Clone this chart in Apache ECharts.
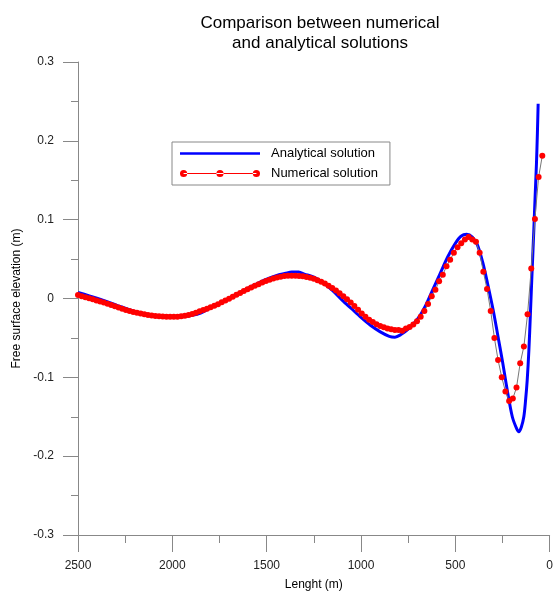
<!DOCTYPE html>
<html>
<head>
<meta charset="utf-8">
<script src="https://cdn.jsdelivr.net/npm/echarts@6/dist/echarts.min.js"></script>
<style>
  html, body { margin: 0; padding: 0; background: #fff; }
  #main { width: 556px; height: 599px; }
</style>
</head>
<body>
<div id="main"></div>
<script>
// analytical solution
var anaX = [2500, 2400, 2300, 2200, 2100, 2000, 1950, 1900, 1850, 1800,
  1750, 1700, 1650, 1600, 1550, 1500, 1450, 1400, 1367, 1330,
  1300, 1250, 1200, 1150, 1100, 1050, 1000, 950, 900, 850,
  820, 790, 750, 700, 660, 620, 580, 540, 500, 470,
  440, 410, 383, 355, 330, 300, 277, 250, 225, 198,
  175, 163, 150, 137, 128, 119, 110, 102, 93, 84,
  77, 70, 65, 61];
var anaY = [0.0078, 0.0005, -0.008, -0.0165, -0.0215, -0.0235, -0.0232, -0.0215, -0.0185, -0.012,
  -0.006, 0.000, 0.0065, 0.013, 0.019, 0.0245, 0.029, 0.032, 0.0337, 0.0335,
  0.031, 0.027, 0.020, 0.010, -0.002, -0.013, -0.024, -0.034, -0.042, -0.048,
  -0.049, -0.046, -0.039, -0.026, -0.010, 0.011, 0.032, 0.053, 0.070, 0.079,
  0.0815, 0.078, 0.068, 0.046, 0.020, -0.014, -0.044, -0.080, -0.116, -0.150,
  -0.165, -0.169, -0.163, -0.150, -0.130, -0.1035, -0.065, -0.019, 0.035, 0.0866,
  0.130, 0.171, 0.210, 0.247];

// numerical solution, one value per grid node (dx = 2500/128 m, from 2500 m shoreward)
var numY = [0.0044, 0.0030, 0.0016, 0.0003, -0.0011, -0.0025, -0.0039, -0.0052, -0.0066,
  -0.0082, -0.0097, -0.0113, -0.0129, -0.0145,
  -0.0158, -0.0170, -0.0181, -0.0191, -0.0200, -0.0208, -0.0215, -0.0221, -0.0226, -0.0229,
  -0.0232, -0.0233, -0.0233, -0.0231, -0.0226, -0.0219, -0.0210, -0.0197, -0.0181, -0.0163, -0.0146,
  -0.0130, -0.0112, -0.0093, -0.0072, -0.0049, -0.0026, -0.0003, 0.0021, 0.0046, 0.0071,
  0.0095, 0.0118, 0.0140, 0.0161, 0.0182, 0.0202, 0.0221, 0.0238, 0.0254, 0.0267,
  0.0277, 0.0284, 0.0288, 0.0290, 0.0289, 0.0286, 0.0281, 0.0274, 0.0264, 0.0250,
  0.0233, 0.0213, 0.0190, 0.0163, 0.0133,
  0.0101, 0.0066, 0.0029, -0.0009, -0.0050, -0.0096, -0.0142, -0.0190, -0.0231, -0.0268,
  -0.0298, -0.0326, -0.0348, -0.0366, -0.0380, -0.0391, -0.0398,
  -0.040, -0.041, -0.038, -0.036, -0.033, -0.029, -0.023, -0.016, -0.007, 0.003,
  0.011, 0.022, 0.030, 0.041, 0.049, 0.058, 0.065, 0.070, 0.075, 0.078,
  0.075, 0.072, 0.058, 0.034, 0.012, -0.016, -0.050, -0.078, -0.100, -0.118,
  -0.130, -0.127, -0.113, -0.082, -0.061, -0.020, 0.038, 0.101, 0.154, 0.181];
var numStart = 2500;
var numStep = 2500 / 128;

var xTicks = [0, 500, 1000, 1500, 2000, 2500];
var yTicks = [-0.3, -0.2, -0.1, 0, 0.1, 0.2, 0.3];

var font = 'Liberation Sans, Arial, sans-serif';

var anaData = anaX.map(function (x, i) { return [x, anaY[i]]; });
var numData = numY.map(function (y, k) { return [numStart - k * numStep, y]; });

var myChart = echarts.init(document.getElementById('main'));
var option = {
  animation: false,
  backgroundColor: '#fff',
  title: {
    text: 'Comparison between numerical\nand analytical solutions',
    left: 315,
    textAlign: 'center',
    top: 8,
    textStyle: { fontFamily: font, fontSize: 17, fontWeight: 'normal', color: '#000', lineHeight: 20 }
  },
  legend: {
    orient: 'vertical',
    left: 172,
    top: 142,
    padding: [5, 12, 5, 8],
    itemWidth: 80,
    itemHeight: 8,
    itemGap: 7,
    borderColor: '#888',
    borderWidth: 1,
    textStyle: { fontFamily: font, fontSize: 13, color: '#000', padding: [0, 0, 0, 6] },
    data: [
      { name: 'Analytical solution', icon: 'path://M0,0 L78,0 L78,2.5 L0,2.5 Z' },
      { name: 'Numerical solution',
        icon: 'path://M0,4 a3.6,3.6 0 1,0 7.2,0 a3.6,3.6 0 1,0 -7.2,0 Z M36.4,4 a3.6,3.6 0 1,0 7.2,0 a3.6,3.6 0 1,0 -7.2,0 Z M72.8,4 a3.6,3.6 0 1,0 7.2,0 a3.6,3.6 0 1,0 -7.2,0 Z M3.6,3.6 L76.4,3.6 L76.4,4.4 L3.6,4.4 Z' }
    ]
  },
  grid: { left: 78, right: 3, top: 62, bottom: 64 },
  xAxis: {
    type: 'value',
    inverse: true,
    min: xTicks[0],
    max: xTicks[xTicks.length - 1],
    interval: 500,
    name: 'Lenght (m)',
    nameLocation: 'middle',
    nameGap: 44,
    nameTextStyle: { fontFamily: font, fontSize: 12, color: '#000' },
    axisLine: { onZero: false, lineStyle: { color: '#888', width: 1 } },
    axisTick: { length: 17, lineStyle: { color: '#888' } },
    minorTick: { show: true, splitNumber: 2, length: 8, lineStyle: { color: '#888' } },
    axisLabel: {
      margin: 25, fontFamily: font, fontSize: 12, color: '#222',
      formatter: function (v) { return String(v); }
    },
    splitLine: { show: false }
  },
  yAxis: {
    type: 'value',
    min: yTicks[0],
    max: yTicks[yTicks.length - 1],
    interval: 0.1,
    name: 'Free surface elevation (m)',
    nameLocation: 'middle',
    nameGap: 52,
    nameTextStyle: { fontFamily: font, fontSize: 12, color: '#000' },
    axisLine: { show: true, onZero: false, lineStyle: { color: '#888', width: 1 } },
    axisTick: { show: true, length: 15, lineStyle: { color: '#888' } },
    minorTick: { show: true, splitNumber: 2, length: 7, lineStyle: { color: '#888' } },
    axisLabel: {
      margin: 24, fontFamily: font, fontSize: 12, color: '#222',
      formatter: function (v) { return String(+v.toFixed(1)); }
    },
    splitLine: { show: false }
  },
  series: [
    {
      name: 'Analytical solution',
      type: 'line',
      data: anaData,
      smooth: 0.3,
      showSymbol: false,
      color: '#0000ff',
      lineStyle: { color: '#0000ff', width: 3 }
    },
    {
      name: 'Numerical solution',
      type: 'line',
      data: numData,
      symbol: 'circle',
      symbolSize: 6,
      showAllSymbol: true,
      color: '#ff0000',
      itemStyle: { color: '#ff0000' },
      lineStyle: { color: '#777', width: 1 }
    }
  ]
};
myChart.setOption(option);
</script>
</body>
</html>
